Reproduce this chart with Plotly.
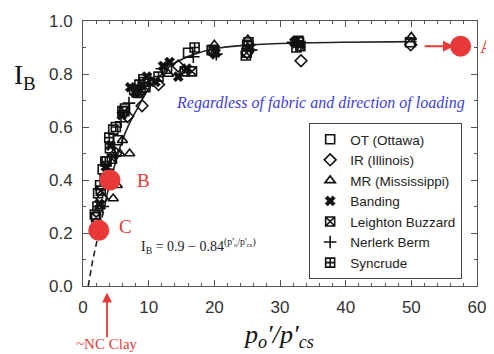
import plotly.graph_objects as go

# ---- data ----
ot_x = [1.8, 2.3, 2.6, 3.0, 3.6, 4.1, 4.6, 5.3, 6.4, 7.8, 8.6, 9.2, 12.8, 16.0, 19.6, 24.8, 25.2, 32.5, 32.9, 49.8]
ot_y = [0.27, 0.35, 0.38, 0.44, 0.47, 0.52, 0.59, 0.55, 0.67, 0.74, 0.76, 0.78, 0.82, 0.88, 0.89, 0.87, 0.92, 0.90, 0.92, 0.92]

ir_x = [2.9, 4.0, 5.0, 6.8, 9.0, 11.5, 14.5, 19.8, 25.0, 33.2, 49.9]
ir_y = [0.33, 0.42, 0.50, 0.64, 0.68, 0.76, 0.83, 0.88, 0.88, 0.85, 0.91]

mr_x = [2.6, 4.6, 5.2, 5.6, 7.1, 6.0, 8.5, 10.5, 13.0, 20.0, 25.1, 33.0, 50.0]
mr_y = [0.30, 0.33, 0.38, 0.50, 0.50, 0.55, 0.72, 0.77, 0.80, 0.91, 0.93, 0.91, 0.94]

bd_x = [2.5, 3.5, 4.2, 5.9, 7.2, 8.0, 9.7, 11.0, 12.2, 13.2, 14.5, 15.8, 20.2, 25.5, 32.2]
bd_y = [0.31, 0.45, 0.53, 0.645, 0.75, 0.73, 0.79, 0.77, 0.83, 0.845, 0.79, 0.82, 0.88, 0.90, 0.92]

lb_x = [2.0, 2.7, 3.3, 4.4, 6.3, 8.8, 9.5, 15.5, 16.6, 19.9, 24.9, 33.1]
lb_y = [0.26, 0.36, 0.40, 0.48, 0.66, 0.74, 0.75, 0.81, 0.81, 0.89, 0.88, 0.905]

nb_x = [3.0, 3.8, 4.9, 5.8, 7.0, 8.4, 10.3, 12.0, 16.8, 20.3, 25.6, 32.0]
nb_y = [0.30, 0.44, 0.49, 0.62, 0.69, 0.75, 0.78, 0.82, 0.865, 0.875, 0.89, 0.92]

sc_x = [2.2, 3.4, 4.0, 5.0, 6.0, 8.2, 9.3, 11.5, 17.0, 25.0, 32.8]
sc_y = [0.30, 0.47, 0.56, 0.60, 0.66, 0.73, 0.77, 0.79, 0.90, 0.91, 0.925]

# fitted curve
curve_dash_x = [0.8, 1.5, 2.4, 3.2]
curve_dash_y = [0.0, 0.10, 0.20, 0.29]
curve_x = [3.2, 4.0, 5.0, 6.0, 7.0, 8.5, 10.0, 12.0, 13.5, 15.0, 17.0, 20.0, 24.0, 30.0, 40.0, 50.8]
curve_y = [0.29, 0.38, 0.47, 0.55, 0.61, 0.68, 0.745, 0.80, 0.835, 0.855, 0.875, 0.895, 0.907, 0.915, 0.92, 0.922]

red_x = [57.5, 4.1, 2.4]
red_y = [0.905, 0.40, 0.21]

series = [
    ("OT (Ottawa)", ot_x, ot_y, "square-open"),
    ("IR (Illinois)", ir_x, ir_y, "diamond-open"),
    ("MR (Mississippi)", mr_x, mr_y, "triangle-up-open"),
    ("Banding", bd_x, bd_y, "x"),
    ("Leighton Buzzard", lb_x, lb_y, "square-x-open"),
    ("Nerlerk Berm", nb_x, nb_y, "cross-thin-open"),
    ("Syncrude", sc_x, sc_y, "square-cross-open"),
]

RED = "#e8393a"
SERIF = "Liberation Serif"
SANS = "Liberation Sans"

fig = go.Figure()

fig.add_trace(go.Scatter(x=curve_dash_x, y=curve_dash_y, mode="lines",
                         line=dict(color="#222", width=1.6, dash="6px,4px"),
                         showlegend=False, hoverinfo="skip"))
fig.add_trace(go.Scatter(x=curve_x, y=curve_y, mode="lines",
                         line=dict(color="#222", width=1.6, shape="spline"),
                         showlegend=False, hoverinfo="skip"))

for name, xs, ys, sym in series:
    fig.add_trace(go.Scatter(
        x=xs, y=ys, mode="markers", name=name,
        marker=dict(symbol=sym, size=9, color="#111",
                    line=dict(color="#111", width=1.6 if sym != "x" else 0.5)),
    ))

fig.add_trace(go.Scatter(x=red_x, y=red_y, mode="markers",
                         marker=dict(size=21, color=RED, line=dict(width=0)),
                         showlegend=False, hoverinfo="skip", cliponaxis=False))

annotations = [
    # axis titles
    dict(x=-0.148, y=0.79, xref="paper", yref="paper", xanchor="center", yanchor="middle",
         text="I<sub>B</sub>", showarrow=False,
         font=dict(family=SERIF, size=27, color="#111")),
    dict(x=0.495, y=-0.19, xref="paper", yref="paper", xanchor="center", yanchor="middle",
         text="<i>p<sub>o</sub>′/p′<sub>cs</sub></i>",
         showarrow=False, font=dict(family=SERIF, size=26, color="#111")),
    # blue note
    dict(x=36.1, y=0.69, xref="x", yref="y", xanchor="center", yanchor="middle",
         text="<i>Regardless of fabric and direction of loading</i>",
         showarrow=False, font=dict(family=SERIF, size=16, color="#3d3ddd")),
    # formula
    dict(x=8.6, y=0.15, xref="x", yref="y", xanchor="left", yanchor="middle",
         text="I<sub>B</sub> = 0.9 − 0.84<sup>(p'<sub>o</sub>/p'<sub>cs</sub>)</sup>",
         showarrow=False, font=dict(family=SERIF, size=14, color="#222")),
    # point labels
    dict(x=1.025, y=0.905, xref="paper", yref="y", xanchor="center", yanchor="middle",
         text="A", showarrow=False, font=dict(family=SERIF, size=19, color=RED)),
    dict(x=9.2, y=0.40, xref="x", yref="y", xanchor="center", yanchor="middle",
         text="B", showarrow=False, font=dict(family=SERIF, size=19, color=RED)),
    dict(x=6.5, y=0.225, xref="x", yref="y", xanchor="center", yanchor="middle",
         text="C", showarrow=False, font=dict(family=SERIF, size=19, color=RED)),
    # arrow to A
    dict(x=56.5, y=0.905, xref="x", yref="y", ax=51.8, ay=0.905, axref="x", ayref="y",
         text="", showarrow=True, arrowhead=2, arrowsize=1.1, arrowwidth=2, arrowcolor=RED),
    # NC clay arrow
    dict(x=0.061, y=-0.025, xref="paper", yref="paper", ax=0, ay=46,
         text="", showarrow=True, arrowhead=2, arrowsize=1.1, arrowwidth=1.8, arrowcolor=RED),
    dict(x=0.061, y=-0.22, xref="paper", yref="paper", xanchor="center", yanchor="middle",
         text="~NC Clay", showarrow=False, font=dict(family=SERIF, size=15, color=RED)),
]

axis_common = dict(
    showline=True, linecolor="#555", linewidth=1, mirror="ticks",
    ticks="inside", ticklen=6, tickwidth=1, tickcolor="#555",
    showgrid=False, zeroline=False,
    tickfont=dict(family=SANS, size=17, color="#333"),
)

fig.update_xaxes(range=[0, 60], dtick=10, tick0=0,
                 minor=dict(dtick=2, ticks="inside", ticklen=3, tickcolor="#555"),
                 ticklabelstandoff=6, automargin=False, **axis_common)
fig.update_yaxes(range=[0, 1.0], dtick=0.2, tick0=0, tickformat=".1f",
                 minor=dict(dtick=0.1, ticks="inside", ticklen=3, tickcolor="#555"),
                 ticklabelstandoff=6, automargin=False, **axis_common)

# page body has an 8px default margin, so the figure is sized to the remaining area
fig.update_layout(
    width=486, height=346,
    margin=dict(l=75, r=17, t=13, b=68),
    paper_bgcolor="white", plot_bgcolor="white",
    annotations=annotations,
    legend=dict(x=0.574, y=0.615, xanchor="left", yanchor="top",
                bgcolor="white", bordercolor="#444", borderwidth=1,
                font=dict(family=SANS, size=13.5, color="#222"),
                tracegroupgap=0, itemwidth=30),
    showlegend=True,
)

fig.write_html("out.html")
